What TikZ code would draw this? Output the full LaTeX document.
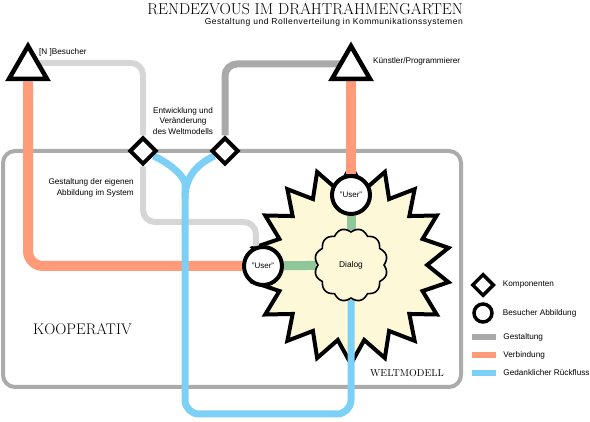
\documentclass[tikz,border=0pt]{standalone}
\usepackage{fontspec}
\setsansfont{Liberation Sans}
\usetikzlibrary{positioning,shapes.geometric}

\definecolor{verbindung}{HTML}{FF9B78}
\definecolor{rueckfluss}{HTML}{7CD0F5}
\definecolor{gestaltung}{HTML}{A9A9A9}
\definecolor{hellgrau}{HTML}{D6D6D6}
\definecolor{rahmengrau}{HTML}{ABABAB}
\definecolor{dialoggruen}{HTML}{8FC79B}
\definecolor{creme}{HTML}{FDF8D8}

\pgfdeclarelayer{hinten}
\pgfdeclarelayer{linien}
\pgfsetlayers{hinten,linien,main}

\begin{document}
\begin{tikzpicture}[
    x=1pt, y=-1pt,
    akteur/.style={draw, regular polygon, regular polygon sides=3, minimum size=44pt,
                inner sep=0, fill=white, line width=4.5pt, line join=miter},
    komponente/.style={draw, diamond, minimum size=27pt, inner sep=0, fill=white,
                line width=4pt, line join=miter},
    besuch/.style={draw, circle, minimum size=38pt, inner sep=0, fill=white,
                line width=4pt, font=\sffamily\fontsize{8}{8}\selectfont},
    beschrift/.style={font=\sffamily\fontsize{8.2}{10.5}\selectfont, inner sep=0},
    balken/.style={minimum width=24pt, minimum height=6pt, inner sep=0},
    verb/.style={draw=verbindung, line width=10pt, rounded corners=15pt},
    gest/.style={draw=gestaltung, line width=7pt, rounded corners=12pt},
    besgest/.style={draw=hellgrau, line width=6pt, rounded corners=12pt},
    rueck/.style={draw=rueckfluss, line width=7pt, rounded corners=14pt},
    dial/.style={draw=dialoggruen, line width=9pt}
]
\useasboundingbox (0,0) rectangle (590,422);

% Titel
\node[anchor=east, inner sep=0, font=\fontsize{15.8}{16}\selectfont] (titel) at (463,9)
    {RENDEZVOUS IM DRAHTRAHMENGARTEN};
\node[below left=3pt and 0pt of titel.south east, inner sep=0,
    font=\sffamily\fontsize{8.5}{9}\selectfont\addfontfeature{LetterSpace=6}] (untertitel)
    {Gestaltung und Rollenverteilung in Kommunikationssystemen};

% Rahmen und Stern
\begin{pgfonlayer}{hinten}
\draw[draw=rahmengrau, line width=4pt, rounded corners=12pt] (3,151) rectangle (461,387);
\node[draw, star, star points=18, star point ratio=1.3, minimum size=198pt, inner sep=0,
    fill=creme, line width=4pt, line join=miter] (stern) at (351,265) {};
\end{pgfonlayer}

% Dialog
\draw[fill=creme, line width=1.6pt, shift={(351,265)}]
    plot[domain=0:359, samples=360, smooth cycle] (\x:{33+3.5*abs(sin(6*\x))});
\node[circle, minimum size=70pt, inner sep=0, font=\sffamily\fontsize{8.4}{9}\selectfont]
    (dialog) at (351,265) {Dialog};

% Akteure und Komponenten
\node[akteur] (besucher) at (28,68) {};
\node[akteur] (kuenstler) at (351,68) {};
\node[komponente] (kompl) at (143,151) {};
\node[komponente] (kompr) at (225,151) {};
\node[besuch] (usero) at (351,195) {"User"};
\node[besuch] (userl) at (263,266) {"User"};
\coordinate (knick) at (200,222);
\coordinate (gabel) at (185,198);
\coordinate (unten) at (185,414);

\begin{pgfonlayer}{linien}
\draw[verb] (besucher.south) |- (userl);
\draw[verb] (kuenstler.south) -- (usero);
\draw[besgest] ([yshift=5pt]besucher.center) -| (kompl);
\draw[besgest] (kompl) |- (knick) -| (userl.110);
\draw[gest] (kompr) |- ([yshift=4pt]kuenstler.center);
\draw[rueck] (kompl) to[out=-25, in=90] (gabel) -- (unten) -| (dialog);
\draw[rueck] (kompr) to[out=205, in=90] (gabel);
\draw[dial] (usero) -- (dialog);
\draw[dial] (userl) -- (dialog);
\end{pgfonlayer}

% Beschriftungen
\node[beschrift, anchor=west] (nbesucher) at (39,52) {[N ]Besucher};
\node[beschrift, anchor=west] (nkuenstler) at (373,61) {Künstler/Programmierer};
\node[beschrift, align=center] (entwicklung) at (183,121)
    {Entwicklung und\\Veränderung\\des Weltmodells};
\node[beschrift, align=right, anchor=east] (abbildung) at (134,188)
    {Gestaltung der eigenen\\Abbildung im System};
\node[anchor=west, inner sep=0, font=\fontsize{15.4}{16}\selectfont] (kooperativ) at (33,329)
    {KOOPERATIV};
\node[anchor=west, inner sep=0, font=\fontsize{10}{10}\selectfont] (weltmodell) at (370,373)
    {WELTMODELL};

% Legende
\node[komponente, minimum size=22pt, line width=3.5pt] (lkomp) at (483,285) {};
\node[beschrift, right=7pt of lkomp] {Komponenten};
\node[besuch, minimum size=18pt, line width=3.5pt] (lbesuch) at (483,313) {};
\node[beschrift, right=9pt of lbesuch] {Besucher Abbildung};
\node[balken, fill=gestaltung] (lgest) at (484,337) {};
\node[beschrift, right=7pt of lgest] {Gestaltung};
\node[balken, fill=verbindung] (lverb) at (484,355) {};
\node[beschrift, right=7pt of lverb] {Verbindung};
\node[balken, fill=rueckfluss] (lrueck) at (484,373) {};
\node[beschrift, right=7pt of lrueck] {Gedanklicher Rückfluss};

\end{tikzpicture}
\end{document}
